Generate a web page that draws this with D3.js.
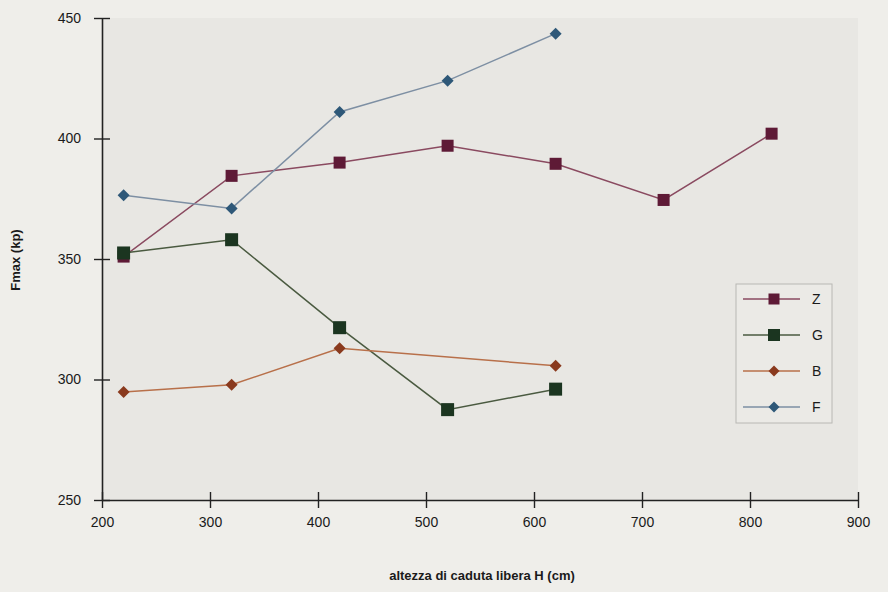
<!DOCTYPE html>
<html>
<head>
<meta charset="utf-8">
<script src="https://cdn.jsdelivr.net/npm/d3@7"></script>
<style>
  body { margin: 0; background: #efeeea; }
  svg { display: block; font-family: "Liberation Sans", Arial, sans-serif; }
</style>
</head>
<body>
<svg id="chart"></svg>
<script>
// heights (cm)
const heights = [220, 320, 420, 520, 620, 720, 820]
const seriesNames = ['Z', 'G', 'B', 'F']
const zValues = [351, 384.5, 390, 397, 389.5, 374.5, 402]
const gValues = [352.5, 358, 321.5, 287.5, 296]
const bValues = [294.8, 297.8, 313, 305.7]
const fValues = [376.5, 371, 411, 424, 443.5]
const xTicks = [200, 300, 400, 500, 600, 700, 800, 900]
const yTicks = [250, 300, 350, 400, 450]

const bHeights = [220, 320, 420, 620]

const series = [
  {name: seriesNames[0], xs: heights, ys: zValues, shape: 'square', size: 12, fill: '#5e1a36', line: '#8a4a60'},
  {name: seriesNames[1], xs: heights, ys: gValues, shape: 'square', size: 13, fill: '#1b3520', line: '#4a5a40'},
  {name: seriesNames[2], xs: bHeights, ys: bValues, shape: 'diamond', size: 10, fill: '#8a3a1e', line: '#b8704a'},
  {name: seriesNames[3], xs: heights, ys: fValues, shape: 'diamond', size: 10, fill: '#2e5878', line: '#7d8fa3'}
]

const width = 888, height = 592
const svg = d3.select('#chart').attr('width', width).attr('height', height)

const x = d3.scaleLinear().domain([200, 900]).range([102, 858])
const y = d3.scaleLinear().domain([250, 450]).range([500, 18])

// plot background
svg.append('rect')
  .attr('x', x(200)).attr('y', y(450))
  .attr('width', x(900) - x(200)).attr('height', y(250) - y(450))
  .attr('fill', '#e8e7e3')

const xAxis = svg.append('g')
  .attr('transform', `translate(0,${y(250)})`)
  .call(d3.axisBottom(x).tickValues(xTicks).tickSizeInner(0).tickSizeOuter(0).tickPadding(17))
xAxis.select('.domain').attr('stroke', '#222').attr('stroke-width', 1.6)
xAxis.selectAll('.tick').append('line')
  .attr('y1', -8).attr('y2', 8).attr('stroke', '#222').attr('stroke-width', 1.4)
xAxis.selectAll('text').attr('font-size', 14).attr('fill', '#1a1a1a')

const yAxis = svg.append('g')
  .attr('transform', `translate(${x(200)},0)`)
  .call(d3.axisLeft(y).tickValues(yTicks).tickSizeInner(0).tickSizeOuter(0).tickPadding(21))
yAxis.select('.domain').attr('stroke', '#222').attr('stroke-width', 1.6)
yAxis.selectAll('.tick').append('line')
  .attr('x1', -8).attr('x2', 8).attr('stroke', '#222').attr('stroke-width', 1.4)
yAxis.selectAll('text').attr('font-size', 14).attr('fill', '#1a1a1a')

svg.append('text')
  .attr('x', 482).attr('y', 580)
  .attr('text-anchor', 'middle')
  .attr('font-size', 13).attr('font-weight', 'bold').attr('fill', '#1a1a1a')
  .text('altezza di caduta libera H (cm)')

svg.append('text')
  .attr('transform', 'translate(20,260) rotate(-90)')
  .attr('text-anchor', 'middle')
  .attr('font-size', 13).attr('font-weight', 'bold').attr('fill', '#1a1a1a')
  .text('Fmax (kp)')

const line = d3.line().x(d => x(d[0])).y(d => y(d[1]))

function marker(g, s, cx, cy) {
  if (s.shape === 'square') {
    g.append('rect')
      .attr('x', cx - s.size / 2).attr('y', cy - s.size / 2)
      .attr('width', s.size).attr('height', s.size)
      .attr('fill', s.fill)
  } else {
    const r = s.size / 2 + 1
    g.append('path')
      .attr('d', `M${cx},${cy - r}L${cx + r},${cy}L${cx},${cy + r}L${cx - r},${cy}Z`)
      .attr('fill', s.fill)
  }
}

series.forEach(s => {
  const pts = s.ys.map((v, i) => [s.xs[i], v])
  const g = svg.append('g')
  g.append('path')
    .datum(pts)
    .attr('d', line)
    .attr('fill', 'none')
    .attr('stroke', s.line)
    .attr('stroke-width', 1.5)
  pts.forEach(p => marker(g, s, x(p[0]), y(p[1])))
})

// legend
const lg = svg.append('g').attr('transform', 'translate(736,284)')
lg.append('rect')
  .attr('width', 96).attr('height', 139)
  .attr('fill', '#ebeae6').attr('stroke', '#b8b8b4').attr('stroke-width', 1)
series.forEach((s, i) => {
  const cy = 15 + i * 36
  const row = lg.append('g')
  row.append('line')
    .attr('x1', 7).attr('x2', 64).attr('y1', cy).attr('y2', cy)
    .attr('stroke', s.line).attr('stroke-width', 1.5)
  marker(row, Object.assign({}, s, {size: s.size - 1}), 38, cy)
  row.append('text')
    .attr('x', 76).attr('y', cy + 5)
    .attr('font-size', 14).attr('fill', '#1a1a1a')
    .text(s.name)
})
</script>
</body>
</html>
